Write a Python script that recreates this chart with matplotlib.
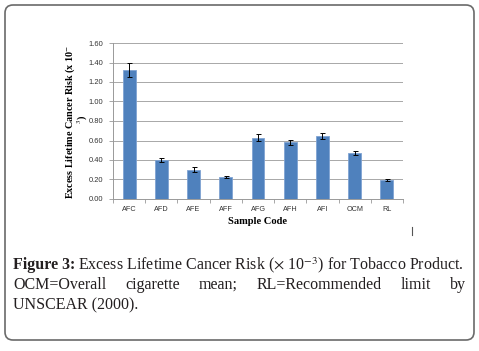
import matplotlib
matplotlib.use("Agg")
import matplotlib.pyplot as plt
from matplotlib.patches import FancyBboxPatch
from matplotlib.transforms import IdentityTransform
import numpy as np

# data
samples = ["AFC", "AFD", "AFE", "AFF", "AFG", "AFH", "AFI", "OCM", "RL"]
risk = [1.32, 0.40, 0.30, 0.225, 0.63, 0.58, 0.65, 0.47, 0.195]
risk_err = [0.07, 0.02, 0.025, 0.01, 0.035, 0.025, 0.03, 0.02, 0.008]
yticks = [0.0, 0.2, 0.4, 0.6, 0.8, 1.0, 1.2, 1.4, 1.6]

plt.rcParams['mathtext.fontset'] = 'stix'

W, H = 479, 351
fig = plt.figure(figsize=(W / 100, H / 100), dpi=100)

# outer rounded frame
frame = FancyBboxPatch((5, 11), 469, 335, boxstyle="round,pad=0,rounding_size=8",
                       transform=IdentityTransform(), facecolor="none",
                       edgecolor="#6a6a6a", linewidth=1.2)
fig.patches.append(frame)

ax = fig.add_axes([113 / W, 1 - 199 / H, 290 / W, 156 / H])
x = np.arange(len(samples))
ax.bar(x, risk, width=0.4, color="#4F81BD", edgecolor="#7FA3D3", linewidth=0.6, zorder=3)
ax.errorbar(x, risk, yerr=risk_err, fmt="none", ecolor="black", elinewidth=0.7,
            capsize=1.8, capthick=0.7, zorder=4)

ax.set_xlim(-0.5, len(samples) - 0.5)
ax.set_ylim(0, 1.6)
ax.set_yticks(yticks)
ax.set_yticklabels([f"{v:.2f}" for v in yticks], fontsize=5.4, family="Liberation Sans",
                   color="#333333")
ax.set_xticks(x)
ax.set_xticklabels(samples, fontsize=5.2, family="Liberation Sans", color="#333333")
ax.set_xticks(np.arange(len(samples) + 1) - 0.5, minor=True)
ax.tick_params(axis="x", which="major", length=0, pad=5)
ax.tick_params(axis="x", which="minor", length=3, color="#999999", width=0.6)
ax.tick_params(axis="y", length=3, color="#999999", width=0.6, pad=4)
ax.grid(axis="y", color="#a8a8a8", linewidth=0.7, zorder=0)
for s in ["top", "right"]:
    ax.spines[s].set_visible(False)
for s in ["left", "bottom"]:
    ax.spines[s].set_color("#999999")
    ax.spines[s].set_linewidth(0.7)

fig.text(257 / W, 1 - 221 / H, "Sample Code", ha="center", va="center",
         fontsize=7.6, fontweight="bold", family="Liberation Serif")
# y label wraps onto a second short line, as in the source
fig.text(70 / W, 1 - 122 / H, "Excess Lifetime Cancer Risk (x 10$^{-}$",
         rotation=90, ha="center", va="center", fontsize=7.3,
         fontweight="bold", family="Liberation Serif")
fig.text(83 / W, 1 - 119 / H, "$^{3}$)",
         rotation=90, ha="center", va="center", fontsize=7.3,
         fontweight="bold", family="Liberation Serif")

# stray mark from the source image
fig.add_artist(plt.Line2D([412 / W, 412 / W], [1 - 227 / H, 1 - 235 / H],
                          color="#555555", linewidth=0.8))

# caption
fig.canvas.draw()
r = fig.canvas.get_renderer()
left, right = 13, 466
fs = 11.5


def put(xp, yp, s, **kw):
    t = fig.text(xp / W, 1 - yp / H, s, fontsize=fs, family="Liberation Serif",
                 va="baseline", ha="left", color="#231f20", **kw)
    return t.get_window_extent(r).width


w = put(left, 269, "Figure 3:", fontweight="bold")
put(left + w + 3, 269, r"Excess Lifetime Cancer Risk ($\times$ 10$^{-3}$) for Tobacco Product.")

words = "OCM=Overall cigarette mean; RL=Recommended limit by".split()
tmp = [fig.text(0, 0, wd, fontsize=fs, family="Liberation Serif") for wd in words]
widths = [t.get_window_extent(r).width for t in tmp]
for t in tmp:
    t.remove()
gap = (right - left - sum(widths)) / (len(words) - 1)
xp = left
for wd, ww in zip(words, widths):
    put(xp, 289, wd)
    xp += ww + gap

put(left, 309, "UNSCEAR (2000).")

fig.savefig("out.png", dpi=100)
